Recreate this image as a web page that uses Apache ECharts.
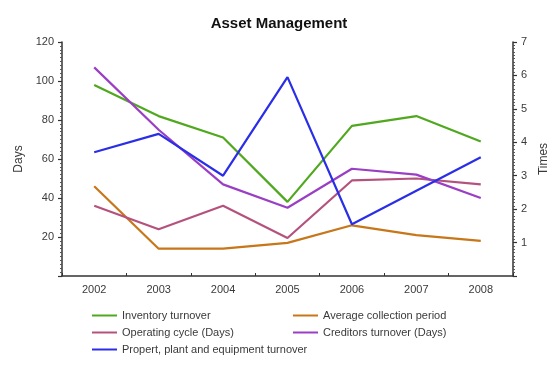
<!DOCTYPE html>
<html>
<head>
<meta charset="utf-8">
<script src="https://cdn.jsdelivr.net/npm/echarts@6/dist/echarts.min.js"></script>
<style>
  html, body { margin: 0; padding: 0; background: #fff; }
  #chart { width: 558px; height: 367px; }
</style>
</head>
<body>
<div id="chart"></div>
<script>
// Years on the category axis
const years = ['2002', '2003', '2004', '2005', '2006', '2007', '2008'];

// Day-based ratios (left axis)
const inventoryTurnover = [98, 82, 71, 38, 77, 82, 69];
const avgCollectionPeriod = [46, 14, 14, 17, 26, 21, 18];
const operatingCycle = [36, 24, 36, 19.5, 49, 50, 47];
const creditorsTurnover = [107, 75, 47, 35, 55, 52, 40];

// Times-based ratio (right axis)
const ppeTurnover = [3.7, 4.25, 3.0, 5.95, 1.55, 2.55, 3.55];

const names = [
  'Inventory turnover',
  'Average collection period',
  'Operating cycle (Days)',
  'Creditors turnover (Days)',
  'Propert, plant and equipment turnover'
];
const colors = ['#4fa81e', '#c8761a', '#b4527e', '#9a3fc4', '#2a2ee6'];

const textColor = '#3a3a3a';
const fontFamily = 'Liberation Sans, Arial, sans-serif';
const axisCommon = {
  axisLine: { show: true, lineStyle: { color: '#333', width: 1.5 } },
  axisTick: { show: true, length: 4, lineStyle: { color: '#333', width: 1.2 } },
  minorTick: { show: true, splitNumber: 10, length: 2, lineStyle: { color: '#555' } },
  splitLine: { show: false },
  axisLabel: { color: textColor, fontSize: 11, fontFamily: fontFamily },
  nameTextStyle: { color: textColor, fontSize: 12, fontFamily: fontFamily }
};

function legendAt(name, left, top) {
  return {
    data: [name], left: left, top: top,
    icon: 'rect', itemWidth: 25, itemHeight: 2, itemGap: 6,
    padding: 0,
    textStyle: { color: textColor, fontSize: 11, fontFamily: fontFamily }
  };
}

const chart = echarts.init(document.getElementById('chart'), null, { renderer: 'canvas' });
chart.setOption({
  animation: false,
  backgroundColor: '#fff',
  title: {
    text: 'Asset Management', left: 'center', top: 11,
    textStyle: { fontSize: 15, fontWeight: 'bold', color: '#111', fontFamily: fontFamily }
  },
  legend: [
    legendAt(names[0], 92, 310),
    legendAt(names[1], 293, 310),
    legendAt(names[2], 92, 327),
    legendAt(names[3], 293, 327),
    legendAt(names[4], 92, 344)
  ],
  grid: { left: 62, right: 43, top: 42, bottom: 91 },
  xAxis: {
    type: 'category', data: years, boundaryGap: true,
    axisLine: { lineStyle: { color: '#333', width: 1.5 } },
    axisTick: { show: true, length: 3, inside: true, lineStyle: { color: '#333' } },
    axisLabel: { color: textColor, fontSize: 11, margin: 8, fontFamily: fontFamily }
  },
  yAxis: [
    Object.assign({}, axisCommon, {
      type: 'value', min: 0, max: 120, interval: 20, position: 'left',
      name: 'Days', nameLocation: 'middle', nameGap: 34, nameRotate: 90,
      axisLabel: Object.assign({}, axisCommon.axisLabel, {
        formatter: v => (v === 0 ? '' : v)
      })
    }),
    Object.assign({}, axisCommon, {
      type: 'value', min: 0, max: 7, interval: 1, position: 'right',
      name: 'Times', nameLocation: 'middle', nameGap: 22, nameRotate: 90,
      axisLabel: Object.assign({}, axisCommon.axisLabel, {
        formatter: v => (v === 0 ? '' : v)
      })
    })
  ],
  series: [
    { name: names[0], type: 'line', data: inventoryTurnover, yAxisIndex: 0 },
    { name: names[1], type: 'line', data: avgCollectionPeriod, yAxisIndex: 0 },
    { name: names[2], type: 'line', data: operatingCycle, yAxisIndex: 0 },
    { name: names[3], type: 'line', data: creditorsTurnover, yAxisIndex: 0 },
    { name: names[4], type: 'line', data: ppeTurnover, yAxisIndex: 1 }
  ].map((s, i) => Object.assign(s, {
    showSymbol: false, symbol: 'none',
    color: colors[i],
    lineStyle: { color: colors[i], width: 2.2 }
  }))
});
</script>
</body>
</html>
